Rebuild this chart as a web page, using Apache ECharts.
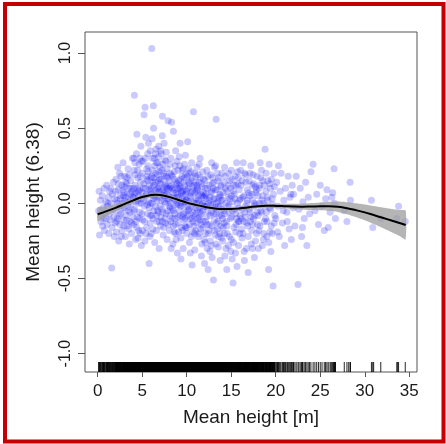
<!DOCTYPE html>
<html>
<head>
<meta charset="utf-8">
<script src="https://cdn.jsdelivr.net/npm/echarts@6/dist/echarts.min.js"></script>
<style>
html,body{margin:0;padding:0;background:#fff;}
#chart{width:446px;height:444px;}
</style>
</head>
<body>
<div id="chart"></div>
<script>
// Partial residuals (x = mean height [m], y = partial effect) - sparse outer part
const scatterPoints = [
[0.1,-0.05],[0.2,-0.21],[0.3,0.02],[0.35,-0.12],[0.4,-0.08],[0.5,0.05],[0.55,-0.15],[0.6,-0.03],[0.7,0.1],[0.75,-0.18],[0.8,-0.06],[0.9,0.01],[0.95,-0.1],[1.0,0.12],[1.05,-0.14],[1.1,-0.02],[1.2,0.04],[1.25,-0.2],[1.3,-0.07],[1.35,0.08],[1.4,-0.11],[1.5,0.0],[1.57,-0.43],[1.6,-0.16],[1.65,0.06],[1.7,-0.04],[1.75,0.14],[1.8,-0.09],[1.85,-0.22],[1.9,0.03],[1.95,-0.13],[0.15,0.08],[0.65,-0.1],[1.15,0.0],[1.45,0.1],
[2.0,-0.05],[2.05,0.16],[2.1,-0.19],[2.15,0.02],[2.2,-0.1],[2.3,0.09],[2.35,-0.25],[2.4,-0.02],[2.45,0.2],[2.5,-0.14],[2.55,0.05],[2.6,-0.07],[2.7,0.12],[2.75,-0.18],[2.8,0.0],[2.85,0.27],[2.9,-0.11],[2.95,0.07],[3.0,-0.03],[3.05,0.18],[3.1,-0.22],[3.15,0.04],[3.2,-0.08],[3.25,0.13],[3.3,-0.15],[3.35,0.01],[3.4,0.23],[3.45,-0.05],[3.5,0.1],[3.55,-0.27],[3.6,-0.12],[3.65,0.06],[3.7,0.15],[3.75,-0.01],[3.8,-0.2],[3.85,0.08],[3.9,0.3],[3.95,-0.09],[2.25,0.24],[2.65,-0.22],[3.0,0.11],[3.5,-0.17],[3.7,0.02],[2.9,0.05],[3.3,0.17],
[4.0,0.04],[4.05,-0.14],[4.1,0.22],[4.12,0.72],[4.15,-0.04],[4.2,0.12],[4.25,-0.24],[4.3,0.07],[4.35,0.33],[4.4,0.46],[4.45,-0.09],[4.5,0.17],[4.55,0.0],[4.6,-0.18],[4.65,0.26],[4.7,0.09],[4.75,-0.06],[4.8,0.14],[4.85,0.38],[4.9,-0.28],[4.95,0.03],[5.0,0.2],[5.05,-0.11],[5.1,0.1],[5.2,0.59],[5.25,-0.02],[5.32,0.64],[5.35,0.3],[5.4,0.44],[5.45,0.06],[5.5,-0.16],[5.55,0.18],[5.6,-0.07],[5.65,0.25],[5.7,0.01],[5.77,-0.4],[5.8,0.12],[5.85,-0.22],[5.9,0.35],[5.95,0.08],[4.05,0.3],[4.3,-0.12],[4.6,0.05],[4.9,0.28],[5.15,0.02],[5.5,0.23],[5.8,-0.03],[4.45,0.1],[4.75,-0.2],[5.0,0.07],[5.3,-0.25],[5.6,0.15],[5.9,-0.13],[4.2,0.19],[5.7,0.4],
[6.0,0.1],[6.05,-0.08],[6.07,1.03],[6.1,0.43],[6.15,0.22],[6.2,-0.17],[6.25,0.65],[6.27,0.5],[6.3,0.03],[6.35,0.3],[6.4,-0.26],[6.45,0.14],[6.5,-0.02],[6.55,0.36],[6.6,0.07],[6.65,-0.12],[6.7,0.19],[6.75,0.27],[6.8,-0.06],[6.85,0.11],[6.9,-0.3],[6.95,0.04],[7.0,0.24],[7.05,-0.15],[7.1,0.16],[7.15,0.33],[7.2,-0.04],[7.27,0.58],[7.3,0.09],[7.35,-0.21],[7.4,0.2],[7.45,0.4],[7.5,0.01],[7.55,-0.1],[7.6,0.13],[7.65,0.28],[7.7,-0.07],[7.75,0.06],[7.8,-0.24],[7.85,0.17],[7.9,0.55],[7.95,0.02],[6.1,0.0],[6.3,0.17],[6.5,0.09],[6.7,-0.05],[6.9,0.21],[7.1,-0.09],[7.3,0.26],[7.5,0.12],[7.7,0.34],[7.9,-0.14],[6.2,0.05],[6.4,0.25],[6.6,-0.18],[6.8,0.15],[7.0,-0.02],[7.2,0.08],[7.4,-0.16],[7.6,0.0],[7.8,0.1],[6.0,-0.2],[6.85,0.38],[7.25,0.45],[7.55,0.05],
[8.0,0.05],[8.05,-0.18],[8.1,0.2],[8.15,-0.03],[8.2,0.3],[8.3,0.54],[8.35,-0.1],[8.4,0.1],[8.45,-0.27],[8.5,0.48],[8.55,0.03],[8.6,0.16],[8.65,-0.07],[8.7,0.25],[8.75,-0.2],[8.8,0.07],[8.85,-0.01],[8.9,0.13],[8.95,-0.33],[9.0,0.22],[9.05,-0.13],[9.1,0.04],[9.15,0.31],[9.2,-0.05],[9.25,0.4],[9.3,0.11],[9.35,-0.23],[9.4,0.0],[9.45,0.18],[9.5,-0.09],[9.55,0.08],[9.6,-0.3],[9.65,0.14],[9.7,-0.02],[9.75,0.26],[9.8,-0.15],[9.85,0.06],[9.9,0.19],[9.95,-0.06],[8.1,-0.08],[8.3,0.12],[8.5,-0.15],[8.7,0.02],[8.9,0.28],[9.1,-0.19],[9.3,0.16],[9.5,0.03],[9.7,-0.11],[9.9,0.09],[8.2,0.0],[8.4,-0.04],[8.6,0.21],[8.8,-0.24],[9.0,0.06],[9.2,0.1],[9.4,-0.16],[9.6,0.23],[9.8,0.01],[8.05,0.15],[8.75,0.35],[9.35,-0.37],[9.85,0.32],[8.25,-0.3],[9.05,-0.01],[9.65,-0.07],
[10.0,0.02],[10.05,-0.16],[10.1,0.41],[10.15,0.1],[10.2,-0.05],[10.25,0.2],[10.3,-0.26],[10.35,0.05],[10.4,-0.1],[10.45,0.15],[10.5,-0.02],[10.55,0.27],[10.6,-0.41],[10.65,0.08],[10.7,-0.19],[10.75,0.61],[10.8,0.0],[10.85,0.12],[10.9,-0.31],[10.95,-0.07],[11.0,0.18],[11.05,0.03],[11.1,-0.13],[11.15,0.24],[11.2,-0.04],[11.25,0.09],[11.3,-0.22],[11.35,0.14],[11.4,-0.09],[11.45,0.01],[11.5,0.3],[11.55,-0.17],[11.6,0.06],[11.65,-0.35],[11.7,0.11],[11.75,-0.01],[11.8,0.21],[11.85,-0.12],[11.9,0.04],[11.95,-0.24],[10.1,-0.08],[10.3,0.13],[10.5,0.07],[10.7,-0.12],[10.9,0.2],[11.1,0.0],[11.3,0.05],[11.5,-0.06],[11.7,-0.27],[11.9,0.16],[10.2,0.23],[10.4,-0.33],[10.6,0.17],[10.8,-0.15],[11.0,-0.03],[11.2,0.1],[11.4,0.26],[11.6,-0.14],[11.8,0.0],[10.0,-0.2],
[12.0,-0.02],[12.05,0.15],[12.1,-0.2],[12.15,0.06],[12.2,-0.09],[12.25,0.22],[12.3,-0.3],[12.4,-0.44],[12.45,0.0],[12.5,0.12],[12.55,-0.14],[12.6,0.04],[12.65,-0.25],[12.7,0.19],[12.75,-0.06],[12.8,0.08],[12.85,-0.36],[12.9,-0.01],[13.0,-0.51],[13.05,0.14],[13.1,-0.11],[13.15,0.03],[13.2,-0.21],[13.25,0.25],[13.3,0.56],[13.35,-0.04],[13.4,0.09],[13.45,-0.17],[13.5,0.01],[13.55,-0.29],[13.6,0.17],[13.65,-0.08],[13.7,0.06],[13.75,-0.38],[13.8,-0.02],[13.85,0.11],[13.9,-0.23],[13.95,0.2],[12.1,0.1],[12.35,-0.05],[12.6,-0.32],[12.85,0.13],[13.1,0.24],[13.35,-0.13],[13.6,-0.02],[13.85,-0.15],[12.2,0.03],[12.5,-0.18],[12.8,0.27],[13.0,-0.07],[13.3,-0.27],[13.5,0.15],[13.8,0.05],[12.0,-0.4],[13.95,-0.04],
[14.0,0.02],[14.1,-0.16],[14.2,0.14],[14.3,-0.07],[14.4,-0.3],[14.5,0.08],[14.6,-0.02],[14.7,0.2],[14.8,-0.22],[14.9,-0.1],[15.0,0.05],[15.1,-0.37],[15.2,-0.53],[15.3,0.12],[15.4,-0.04],[15.5,-0.19],[15.6,0.27],[15.7,0.0],[15.8,-0.12],[15.9,0.09],[14.05,-0.25],[14.25,0.24],[14.45,-0.12],[14.65,0.04],[14.85,0.15],[15.05,-0.09],[15.25,-0.26],[15.45,0.18],[15.65,-0.42],[15.85,-0.03],[14.15,-0.05],[14.35,0.1],[14.55,-0.2],[14.75,-0.01],[14.95,-0.32],[15.15,0.01],[15.35,0.06],[15.55,-0.14],[15.75,0.13],[15.95,-0.2],[14.5,-0.44],[15.0,0.22],[15.5,-0.07],[14.2,-0.13],[15.8,0.17],
[16.0,-0.08],[16.1,0.12],[16.2,-0.23],[16.3,0.04],[16.4,-0.12],[16.5,0.2],[16.6,-0.02],[16.7,-0.3],[16.8,0.09],[16.9,-0.46],[17.0,0.15],[17.1,-0.06],[17.2,0.25],[17.3,-0.18],[17.4,0.02],[17.5,-0.1],[17.6,-0.36],[17.7,0.11],[17.8,-0.01],[17.9,0.18],[16.05,0.22],[16.25,-0.04],[16.45,-0.32],[16.65,0.14],[16.85,-0.15],[17.05,0.05],[17.25,-0.27],[17.45,0.19],[17.65,-0.08],[17.85,-0.2],[16.15,-0.17],[16.35,0.27],[16.55,-0.09],[16.75,0.0],[16.95,0.07],[17.15,-0.12],[17.35,0.12],[17.55,-0.02],[17.75,0.07],[17.95,-0.14],
[18.0,0.05],[18.1,-0.18],[18.2,0.12],[18.3,-0.05],[18.4,0.22],[18.5,-0.28],[18.6,0.0],[18.7,-0.12],[18.8,0.36],[18.9,0.08],[19.0,-0.22],[19.1,0.15],[19.2,-0.44],[19.3,-0.03],[19.4,0.1],[19.5,-0.15],[19.6,0.03],[19.7,-0.55],[19.8,0.2],[19.9,-0.08],[18.05,-0.3],[18.25,0.27],[18.45,0.02],[18.65,-0.2],[18.85,-0.1],[19.05,0.04],[19.25,0.26],[19.45,-0.32],[19.65,-0.01],[19.85,0.11],[18.15,0.0],[18.55,0.15],[18.95,-0.06],[19.35,-0.19],[19.75,0.06],
[20.0,-0.1],[20.1,0.14],[20.25,-0.02],[20.4,-0.22],[20.5,0.08],[20.6,0.2],[20.75,-0.13],[20.9,0.02],[21.0,-0.28],[21.1,0.1],[21.25,-0.06],[21.4,0.18],[21.5,-0.17],[21.6,0.04],[21.75,-0.24],[21.85,0.12],[21.95,-0.03],[20.3,0.25],[20.85,-0.05],[21.3,-0.12],[21.7,0.06],[20.2,-0.19],
[22.0,0.06],[22.15,-0.15],[22.3,0.18],[22.5,-0.54],[22.6,-0.04],[22.75,0.1],[22.9,-0.22],[23.05,0.01],[23.2,-0.1],[23.35,0.14],[23.5,-0.28],[23.65,0.04],[23.8,-0.07],[23.95,0.21],[23.0,-0.16],
[24.2,0.26],[24.4,-0.05],[24.6,0.06],[24.8,-0.14],[25.0,0.12],[25.2,-0.02],[25.45,-0.18],[25.6,0.03],[25.9,-0.16],[25.75,0.09],
[26.1,-0.06],[26.3,0.04],[26.55,0.23],[26.7,-0.1],[26.6,0.0],[26.4,0.07],[27.7,-0.05],[28.0,-0.12],
[28.35,0.14],[28.4,0.02],[30.75,0.02],[30.9,-0.16],[31.8,-0.1],[33.6,-0.1],[33.8,-0.02],[34.55,-0.12]
];

// Partial residuals - dense central cloud
const scatterPointsCore = [
[2.02,0.08],[2.12,-0.12],[2.22,0.0],[2.33,0.13],[2.42,-0.08],[2.53,0.03],[2.62,0.18],[2.73,-0.04],[2.82,0.09],[2.93,-0.15],[3.02,0.02],[3.12,0.14],[3.22,-0.11],[3.32,0.06],[3.42,-0.02],[3.52,0.19],[3.62,-0.06],[3.72,0.1],[3.82,-0.13],[3.92,0.04],
[4.02,0.1],[4.08,-0.05],[4.18,0.27],[4.28,0.01],[4.38,-0.16],[4.48,0.22],[4.58,0.08],[4.68,-0.1],[4.78,0.18],[4.88,0.0],[4.98,-0.07],[5.08,0.28],[5.18,0.13],[5.28,-0.12],[5.38,0.05],[5.48,0.16],[5.58,-0.01],[5.68,0.21],[5.78,0.09],[5.88,-0.08],[5.98,0.17],[4.12,0.06],[4.42,0.02],[4.72,0.3],[5.02,-0.18],[5.32,0.1],[5.62,0.33],[5.92,0.0],[4.52,-0.23],[5.42,-0.2],
[6.02,0.06],[6.12,0.3],[6.22,-0.1],[6.32,0.12],[6.42,0.04],[6.52,0.2],[6.62,-0.08],[6.72,0.1],[6.82,0.31],[6.92,-0.12],[7.02,0.13],[7.12,0.02],[7.22,0.22],[7.32,-0.06],[7.42,0.07],[7.52,0.29],[7.62,-0.13],[7.72,0.18],[7.82,0.03],[7.92,0.09],[6.08,0.18],[6.28,-0.05],[6.48,0.33],[6.68,0.02],[6.88,0.08],[7.08,0.35],[7.28,-0.12],[7.48,0.18],[7.68,0.11],[7.88,-0.05],[6.18,0.14],[6.58,0.27],[6.98,0.16],[7.38,0.05],[7.78,0.23],
[8.02,0.1],[8.12,0.26],[8.22,-0.12],[8.32,0.04],[8.42,0.18],[8.52,-0.05],[8.62,0.09],[8.72,-0.14],[8.82,0.14],[8.92,0.0],[9.02,-0.09],[9.12,0.12],[9.22,0.25],[9.32,-0.02],[9.42,0.07],[9.52,-0.18],[9.62,0.05],[9.72,0.17],[9.82,-0.1],[9.92,0.02],[8.08,-0.02],[8.28,0.19],[8.48,0.07],[8.68,-0.1],[8.88,0.04],[9.08,0.15],[9.28,-0.08],[9.48,0.22],[9.68,0.01],[9.88,-0.16],[8.18,0.11],[8.58,-0.19],[8.98,0.1],[9.38,0.08],[9.78,0.12],
[10.02,0.08],[10.12,-0.02],[10.22,0.14],[10.32,-0.14],[10.42,0.04],[10.52,-0.22],[10.62,0.11],[10.72,0.01],[10.82,-0.08],[10.92,0.07],[11.02,-0.18],[11.12,0.12],[11.22,-0.1],[11.32,0.02],[11.42,-0.03],[11.52,0.17],[11.62,-0.07],[11.72,0.05],[11.82,-0.16],[11.92,-0.02],[10.08,0.18],[10.28,-0.04],[10.48,0.21],[10.68,-0.06],[10.88,-0.2],[11.08,0.08],[11.28,0.19],[11.48,-0.11],[11.68,0.13],[11.88,0.07],[10.18,0.01],[10.58,-0.1],[10.98,0.14],[11.38,-0.2],[11.78,-0.05],
[12.02,0.05],[12.12,-0.12],[12.22,-0.02],[12.32,0.1],[12.42,-0.2],[12.52,0.02],[12.62,-0.08],[12.72,0.07],[12.82,-0.15],[12.92,0.17],[13.02,0.03],[13.12,-0.18],[13.22,0.09],[13.32,-0.07],[13.42,0.2],[13.52,-0.12],[13.62,0.04],[13.72,-0.2],[13.82,0.12],[13.92,-0.08],[12.08,-0.26],[12.38,0.18],[12.68,-0.01],[12.98,0.1],[13.28,0.0],[13.58,-0.22],[13.88,0.02],[12.28,-0.14],[12.78,-0.28],[13.18,-0.03],
[14.02,-0.1],[14.12,0.07],[14.22,-0.2],[14.32,0.18],[14.42,0.0],[14.52,-0.15],[14.62,0.12],[14.72,-0.06],[14.82,0.03],[14.92,0.1],[15.02,-0.24],[15.12,-0.05],[15.22,0.08],[15.32,-0.16],[15.42,0.03],[15.52,0.12],[15.62,-0.1],[15.72,0.21],[15.82,-0.28],[15.92,0.02],[14.28,-0.35],[14.68,-0.28],[15.08,0.16],[15.48,-0.33],[15.88,-0.12],
[16.02,0.03],[16.12,-0.1],[16.22,0.15],[16.32,-0.2],[16.42,0.05],[16.52,-0.06],[16.62,0.19],[16.72,-0.13],[16.82,0.02],[16.92,-0.22],[17.02,-0.04],[17.12,0.2],[17.22,-0.09],[17.32,0.06],[17.42,-0.14],[17.52,0.13],[17.62,0.0],[17.72,-0.25],[17.82,0.09],[17.92,-0.06],[16.48,-0.38],[17.38,-0.3],
[18.02,-0.08],[18.12,0.1],[18.22,-0.15],[18.32,0.17],[18.42,-0.06],[18.52,0.05],[18.62,-0.24],[18.72,0.12],[18.82,-0.02],[18.92,0.2],[19.02,-0.12],[19.12,0.02],[19.22,-0.26],[19.32,0.13],[19.42,-0.04],[19.52,0.16],[19.62,-0.2],[19.82,-0.13]
];

// Fitted smooth and its confidence band
const smoothX     = [0,1,2,3,4,5,6,6.5,7,8,9,10,11,12,13,14,15,16,17,18,19,20,21,22,23,24,25,26,27,28,29,30,31,32,33,34,34.6];
const smoothFit   = [-0.072,-0.052,-0.03,-0.005,0.02,0.042,0.056,0.058,0.056,0.043,0.024,0.005,-0.01,-0.023,-0.033,-0.038,-0.038,-0.033,-0.026,-0.019,-0.016,-0.017,-0.019,-0.021,-0.022,-0.021,-0.02,-0.02,-0.023,-0.032,-0.045,-0.06,-0.078,-0.096,-0.114,-0.132,-0.144];
const bandLower   = [-0.117,-0.085,-0.055,-0.025,0.003,0.027,0.041,0.043,0.042,0.03,0.012,-0.007,-0.022,-0.035,-0.045,-0.05,-0.05,-0.045,-0.038,-0.031,-0.029,-0.031,-0.035,-0.039,-0.042,-0.044,-0.046,-0.05,-0.058,-0.072,-0.091,-0.113,-0.138,-0.164,-0.191,-0.22,-0.24];
const bandUpper   = [-0.027,-0.019,-0.005,0.015,0.037,0.057,0.071,0.073,0.07,0.056,0.036,0.017,0.002,-0.011,-0.021,-0.026,-0.026,-0.021,-0.014,-0.007,-0.003,-0.003,-0.003,-0.003,-0.002,0.002,0.006,0.01,0.012,0.008,0.001,-0.007,-0.018,-0.028,-0.037,-0.044,-0.048];

// Extra rug positions
const rugExtra = [26.2,26.5,26.7,28.2,31.0,33.7];

const xTicks = [0,5,10,15,20,25,30,35];
const yTicks = [-1,-0.5,0,0.5,1];
const xTitle = 'Mean height [m]';
const yTitle = 'Mean height (6.38)';

const X_MIN = -1.43, X_MAX = 35.87, Y_MIN = -1.122, Y_MAX = 1.14;
const FONT = "'Liberation Sans', Arial, sans-serif";

const allPoints = scatterPoints.concat(scatterPointsCore);
const rugValues = allPoints.map(p => p[0]).concat(rugExtra);

const chart = echarts.init(document.getElementById('chart'), null, {renderer: 'canvas'});
chart.setOption({
  animation: false,
  backgroundColor: '#ffffff',
  graphic: [{
    type: 'rect', z: 100,
    shape: {x: 5, y: 4, width: 438.5, height: 437.5},
    style: {fill: 'none', stroke: '#c40000', lineWidth: 4}
  }],
  grid: {left: 85, right: 29, top: 32, bottom: 72, show: true, borderColor: '#555', borderWidth: 1, backgroundColor: 'transparent'},
  xAxis: {
    type: 'value', min: X_MIN, max: X_MAX,
    name: xTitle, nameLocation: 'middle', nameGap: 36,
    nameTextStyle: {fontFamily: FONT, fontSize: 19, color: '#1a1a1a'},
    axisLine: {show: false, onZero: false},
    splitLine: {show: false},
    axisTick: {show: true, inside: false, length: 5, lineStyle: {color: '#555'}, customValues: xTicks},
    axisLabel: {fontFamily: FONT, fontSize: 17, color: '#1a1a1a', margin: 11, customValues: xTicks, formatter: v => String(v)}
  },
  yAxis: {
    type: 'value', min: Y_MIN, max: Y_MAX,
    name: yTitle, nameLocation: 'middle', nameGap: 42,
    nameTextStyle: {fontFamily: FONT, fontSize: 19, color: '#1a1a1a'},
    axisLine: {show: false, onZero: false},
    splitLine: {show: false},
    axisTick: {show: true, inside: false, length: 7, lineStyle: {color: '#555'}, customValues: yTicks},
    axisLabel: {fontFamily: FONT, fontSize: 16, color: '#1a1a1a', margin: 11, rotate: 90, customValues: yTicks, formatter: v => v.toFixed(1)}
  },
  series: [
    {
      type: 'scatter', data: allPoints, symbolSize: 7, z: 2,
      itemStyle: {color: 'rgba(0,0,255,0.26)'}
    },
    {
      type: 'custom', z: 3, data: [0],
      renderItem: function (params, api) {
        const pts = [];
        for (let i = 0; i < smoothX.length; i++) pts.push(api.coord([smoothX[i], bandUpper[i]]));
        for (let i = smoothX.length - 1; i >= 0; i--) pts.push(api.coord([smoothX[i], bandLower[i]]));
        return {type: 'polygon', shape: {points: pts, smooth: 0.2}, style: {fill: 'rgba(160,160,160,0.78)', stroke: 'none'}};
      }
    },
    {
      type: 'line', data: smoothX.map((x, i) => [x, smoothFit[i]]), smooth: 0.4, showSymbol: false, z: 4,
      lineStyle: {color: '#000', width: 2}
    },
    {
      type: 'custom', z: 5, data: rugValues.map(v => [v]),
      encode: {x: 0},
      renderItem: function (params, api) {
        const p = api.coord([api.value(0), Y_MIN]);
        return {type: 'line', shape: {x1: p[0], y1: p[1], x2: p[0], y2: p[1] - 10}, style: {stroke: 'rgba(0,0,0,0.85)', lineWidth: 1}};
      }
    }
  ]
});
</script>
</body>
</html>
